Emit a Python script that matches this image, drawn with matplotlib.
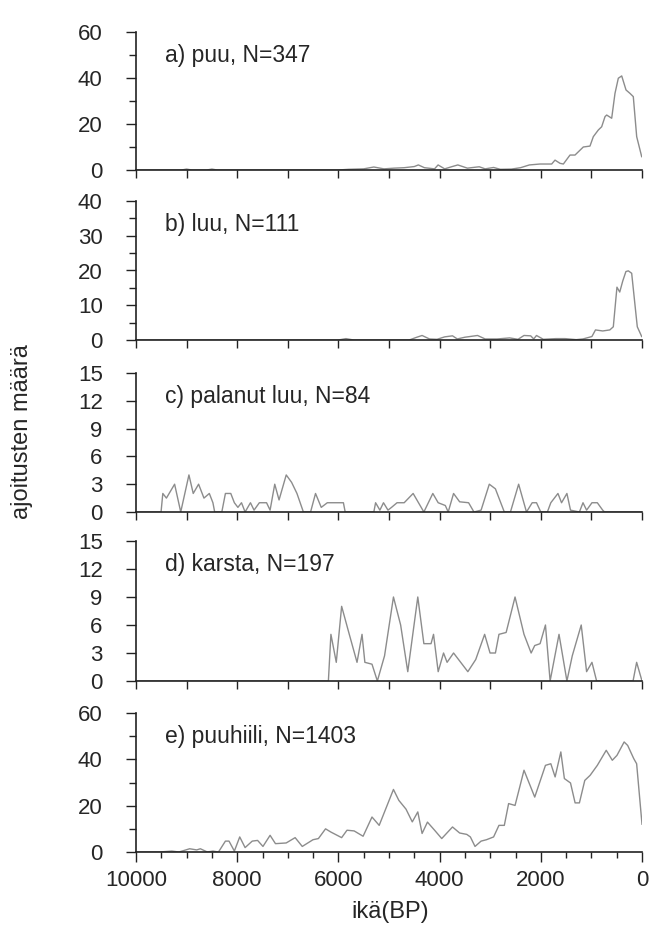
import matplotlib
matplotlib.use("Agg")
import matplotlib.pyplot as plt
from matplotlib.ticker import MultipleLocator

plt.rcParams['font.family'] = ['Liberation Sans', 'DejaVu Sans']

# ---- data: age (BP) and number of dates ----
puu_age = [10000, 9100, 9000, 8900, 8600, 8500, 8400, 6000, 5800, 5500, 5300, 5100,
           4900, 4700, 4500, 4420, 4300, 4100, 4030, 3900, 3750, 3640, 3450, 3300,
           3216, 3100, 2933, 2800, 2580, 2400, 2226, 2016, 1785, 1719, 1620, 1554,
           1423, 1324, 1160, 1028, 962, 863, 797, 731, 698, 599, 534, 468, 401, 316,
           237, 172, 105, 6]
puu_n = [0, 0, 0.4, 0, 0, 0.4, 0, 0, 0.3, 0.5, 1.3, 0.5,
         0.8, 1.0, 1.5, 2.2, 1.0, 0.5, 2.2, 0.5, 1.5, 2.2, 0.8, 1.2,
         1.4, 0.5, 1.1, 0.3, 0.4, 1.0, 2.2, 2.6, 2.6, 4.3, 2.9, 2.6,
         6.5, 6.5, 10.0, 10.4, 14.5, 17.4, 18.8, 23.2, 23.9, 22.5, 33.3, 39.9, 40.9, 34.8,
         33.3, 31.9, 14.5, 5.8]

luu_age = [10000, 6000, 5850, 5700, 4600, 4450, 4346, 4200, 4050, 3900, 3745, 3650,
           3500, 3250, 3100, 2862, 2615, 2450, 2332, 2200, 2140, 2085, 1950, 1700,
           1520, 1300, 1166, 990, 919, 777, 636, 567, 495, 440, 380, 318, 270, 204,
           138, 93, 6]
luu_n = [0, 0, 0.4, 0, 0, 0.8, 1.3, 0.3, 0.2, 0.9, 1.2, 0.3,
         0.8, 1.3, 0.3, 0.3, 0.6, 0.2, 1.3, 1.2, 0.3, 1.3, 0.2, 0.4,
         0.4, 0.1, 0.3, 1.0, 2.9, 2.6, 2.9, 3.8, 15.2, 13.8, 17.0, 19.7, 19.9, 19.2,
         10.0, 3.8, 1.0]

palanut_age = [10000, 9505, 9470, 9399, 9237, 9116, 8954, 8869, 8763, 8657, 8551, 8480,
               8445, 8304, 8233, 8127, 8056, 7986, 7915, 7844, 7738, 7667, 7562, 7420,
               7350, 7258, 7173, 7031, 6925, 6819, 6692, 6550, 6452, 6339, 6219, 5901,
               5866, 5300, 5265, 5180, 5109, 5020, 4950, 4841, 4700, 4523, 4311, 4134,
               4028, 3887, 3830, 3724, 3604, 3427, 3321, 3180, 3018, 2897, 2721, 2600,
               2438, 2283, 2170, 2085, 2000, 1870, 1802, 1661, 1590, 1484, 1413, 1237,
               1166, 1095, 989, 883, 777, 740, 0]
palanut_n = [0, 0, 2, 1.5, 3, 0, 4, 2, 3, 1.5, 2, 1,
             0, 0, 2, 2, 1, 0.5, 1, 0, 1, 0.2, 1, 1,
             0.2, 3, 1.3, 4, 3.2, 2, 0, 0, 2, 0.5, 1, 1,
             0, 0, 1, 0.2, 1, 0.2, 0.5, 1, 1, 2, 0, 2,
             1, 0.7, 0, 2, 1.1, 1, 0, 0.2, 3, 2.5, 0, 0,
             3, 0, 1, 1, 0, 0, 1, 2, 1, 2, 0.2, 0,
             1, 0.2, 1, 1, 0.2, 0, 0]

karsta_age = [10000, 6198, 6148, 6042, 5936, 5795, 5632, 5533, 5477, 5336, 5230, 5088,
              4912, 4770, 4629, 4431, 4311, 4169, 4120, 4028, 3922, 3852, 3724, 3442,
              3286, 3110, 3003, 2897, 2827, 2685, 2509, 2332, 2191, 2120, 2014, 1908,
              1816, 1640, 1484, 1378, 1201, 1095, 989, 897, 177, 106, 0]
karsta_n = [0, 0, 5, 2, 8, 5.2, 2, 5, 2, 1.8, 0, 2.7,
            9, 6, 1, 9, 4, 4, 5, 1, 3, 2, 3, 1,
            2.3, 5, 3, 3, 5, 5.2, 9, 5, 3, 3.8, 4, 6,
            0, 5, 0, 2.7, 6, 1, 2, 0, 0, 2, 0]

puuhiili_age = [10000, 9540, 9293, 9150, 8940, 8800, 8728, 8590, 8480, 8370, 8233, 8162,
                8056, 7950, 7844, 7703, 7597, 7491, 7350, 7244, 7032, 6855, 6714, 6502,
                6395, 6254, 6148, 5936, 5830, 5689, 5512, 5336, 5194, 4912, 4806, 4664,
                4540, 4431, 4346, 4240, 4099, 3958, 3745, 3604, 3463, 3392, 3300, 3180,
                3074, 2933, 2827, 2721, 2636, 2509, 2332, 2120, 1908, 1802, 1717, 1604,
                1534, 1413, 1322, 1237, 1131, 1025, 883, 707, 587, 495, 353, 283,
                163, 106, 0]
puuhiili_n = [0, 0, 0.4, 0, 1.4, 0.9, 1.4, 0, 0.4, 0, 4.7, 4.7,
              0.4, 6.5, 1.9, 4.7, 5.0, 2.4, 7.2, 3.6, 3.9, 6.2, 2.4, 5.3,
              5.8, 10.0, 8.6, 6.2, 9.4, 9.1, 6.8, 15.1, 11.5, 27.0, 22.3, 18.5,
              13.0, 17.3, 8.0, 12.9, 9.4, 5.8, 10.8, 8.2, 7.6, 6.5, 2.4, 4.7,
              5.3, 6.5, 11.5, 11.5, 20.9, 20.1, 35.3, 23.7, 37.4, 38.1, 32.4, 43.2,
              31.7, 29.8, 21.2, 21.2, 30.9, 33.1, 37.4, 43.9, 39.6, 41.7, 47.5, 46.0,
              40.3, 38.1, 12.0]

labels = ["a) puu, N=347", "b) luu, N=111", "c) palanut luu, N=84",
          "d) karsta, N=197", "e) puuhiili, N=1403"]
ylims = [60, 40, 15, 15, 60]
ymajor = [20, 10, 3, 3, 20]
yminor = [10, 5, 3, 3, 10]
xtick_labels = ["10000", "8000", "6000", "4000", "2000", "0"]

series = [(puu_age, puu_n), (luu_age, luu_n), (palanut_age, palanut_n),
          (karsta_age, karsta_n), (puuhiili_age, puuhiili_n)]

# ---- layout ----
W, H = 652, 938
fig = plt.figure(figsize=(W / 100, H / 100), dpi=100)
left_px, right_px = 136, 642
panels_px = [(32, 170), (201, 340), (373, 512), (541, 681), (713, 852)]

line_color = "#8c8c8c"
text_color = "#262626"
fs_tick = 16
fs_label = 16.5

for i, ((ages, vals), (top, bot)) in enumerate(zip(series, panels_px)):
    ax = fig.add_axes([left_px / W, 1 - bot / H, (right_px - left_px) / W, (bot - top) / H])
    ax.plot(ages, vals, color=line_color, lw=1.0, zorder=1)
    ax.set_xlim(10000, 0)
    ax.set_ylim(0, ylims[i])
    for s in ("top", "right"):
        ax.spines[s].set_visible(False)
    for s in ("left", "bottom"):
        ax.spines[s].set_linewidth(1.2)
        ax.spines[s].set_color("#222222")
        ax.spines[s].set_zorder(3)
    ax.yaxis.set_major_locator(MultipleLocator(ymajor[i]))
    ax.yaxis.set_minor_locator(MultipleLocator(yminor[i]))
    ax.xaxis.set_major_locator(MultipleLocator(2000))
    if i < 4:
        ax.xaxis.set_minor_locator(MultipleLocator(1000))
        ax.tick_params(axis="x", which="both", length=6, width=1.0, direction="out",
                       labelbottom=False, color="#222222")
    else:
        ax.xaxis.set_minor_locator(MultipleLocator(500))
        ax.tick_params(axis="x", which="major", length=7, width=1.0, direction="out",
                       labelsize=fs_tick, pad=6, labelcolor=text_color, color="#222222")
        ax.tick_params(axis="x", which="minor", length=4, width=1.0, direction="out",
                       color="#222222")
        ax.set_xticks([10000, 8000, 6000, 4000, 2000, 0])
        ax.set_xticklabels(xtick_labels)
    ax.tick_params(axis="y", which="major", length=7, width=1.0, direction="out",
                   labelsize=fs_tick, pad=17, labelcolor=text_color, color="#222222")
    ax.tick_params(axis="y", which="minor", length=5, width=1.0, direction="out",
                   color="#222222")
    ax.text(0.057, 0.83, labels[i], transform=ax.transAxes, fontsize=fs_label,
            ha="left", va="center", color=text_color)
    ax.set_facecolor("none")

fig.text(22 / W, 1 - 432 / H, "ajoitusten määrä", rotation=90, fontsize=17,
         ha="center", va="center", color=text_color)
fig.text(390 / W, 1 - 912 / H, "ikä(BP)", fontsize=17, ha="center", va="center",
         color=text_color)

fig.savefig("out.png", dpi=100, facecolor="white")
